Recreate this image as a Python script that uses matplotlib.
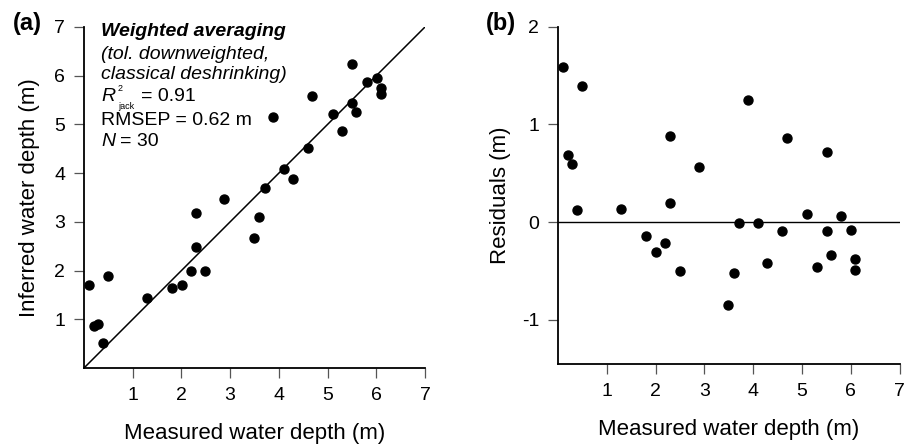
import matplotlib.pyplot as plt
import numpy as np

plt.rcParams['font.family'] = ['Liberation Sans', 'DejaVu Sans']
plt.rcParams['axes.unicode_minus'] = False

# measured depth (m), same samples in both panels
measured = [0.10, 0.49, 0.20, 0.28, 0.38, 1.29, 1.80, 2.01, 2.19, 2.49,
            2.30, 2.30, 2.88, 3.49, 3.60, 3.71, 4.10, 4.29, 4.60, 3.89,
            4.69, 5.11, 5.30, 5.51, 5.59, 5.51, 5.80, 6.01, 6.09, 6.09]
# inferred depth (m), panel a
inferred = [1.70, 1.88, 0.87, 0.90, 0.52, 1.43, 1.64, 1.70, 1.99, 1.99,
            2.49, 3.19, 3.47, 2.66, 3.09, 3.69, 4.09, 3.88, 4.52, 5.15,
            5.58, 5.21, 4.87, 5.43, 5.26, 6.24, 5.87, 5.95, 5.74, 5.63]
# residuals (m), panel b
residuals = [1.59, 1.39, 0.69, 0.60, 0.13, 0.14, -0.14, -0.30, -0.21, -0.50,
             0.20, 0.88, 0.56, -0.85, -0.52, -0.01, -0.01, -0.42, -0.09, 1.25,
             0.86, 0.085, -0.46, -0.09, -0.34, 0.72, 0.06, -0.08, -0.38, -0.49]

xticks = [1, 2, 3, 4, 5, 6, 7]
yticks_a = [1, 2, 3, 4, 5, 6, 7]
yticks_b = [-1, 0, 1, 2]

fig = plt.figure(figsize=(9.11, 4.44), dpi=100)
ax = fig.add_axes([0.0922, 0.1712, 0.3743, 0.768])
ax2 = fig.add_axes([0.6125, 0.1802, 0.375, 0.7597])


def style(a):
    for s in ['top', 'right']:
        a.spines[s].set_visible(False)
    for s in ['left', 'bottom']:
        a.spines[s].set_linewidth(1.3)
    a.tick_params(direction='out', length=7.5, width=0.9, color='#555555',
                  labelsize=14, pad=6)
    a.set_xticks(xticks)
    a.set_xticklabels([str(t) for t in xticks])


# panel a
ax.plot([0, 7], [0, 7], color='black', lw=1.1, zorder=1)
ax.scatter(measured, inferred, s=42, color='black', zorder=2)
ax.set_xlim(0, 7)
ax.set_ylim(0, 7)
ax.set_yticks(yticks_a)
style(ax)
ax.set_xlabel('Measured water depth (m)', fontsize=16, labelpad=14)
ax.set_ylabel('Inferred water depth (m)', fontsize=16, labelpad=10)

tx = 0.35
ax.text(tx, 6.905, 'Weighted averaging', fontsize=14, fontweight='bold',
        style='italic', va='center')
ax.text(tx, 6.43, '(tol. downweighted,', fontsize=14, style='italic', va='center')
ax.text(tx, 6.02, 'classical deshrinking)', fontsize=14, style='italic', va='center')
ax.text(tx, 5.57, 'R', fontsize=14, style='italic', va='center')
ax.annotate('2', (tx, 5.57), xytext=(12, 6), textcoords='offset points',
            fontsize=6.5, va='center')
ax.annotate('jack', (tx, 5.57), xytext=(12, -7), textcoords='offset points',
            fontsize=6.5, va='center')
ax.annotate('= 0.91', (tx, 5.57), xytext=(29, 0), textcoords='offset points',
            fontsize=14, va='center')
ax.text(tx, 5.08, 'RMSEP = 0.62 m', fontsize=14, va='center')
ax.text(tx, 4.65, 'N', fontsize=14, style='italic', va='center')
ax.annotate('= 30', (tx, 4.65), xytext=(14, 0), textcoords='offset points',
            fontsize=14, va='center')
fig.text(0.014, 0.948, '(a)', fontsize=17, fontweight='bold', va='center')

# panel b
ax2.axhline(0, color='black', lw=1.0, zorder=1)
ax2.scatter(measured, residuals, s=42, color='black', zorder=2)
ax2.set_xlim(0, 7)
ax2.set_ylim(-1.45, 2)
ax2.set_yticks(yticks_b)
style(ax2)
ax2.set_xlabel('Measured water depth (m)', fontsize=16, labelpad=14)
ax2.set_ylabel('Residuals (m)', fontsize=16, labelpad=8)
fig.text(0.533, 0.948, '(b)', fontsize=17, fontweight='bold', va='center')

fig.savefig('out.png', dpi=100)
